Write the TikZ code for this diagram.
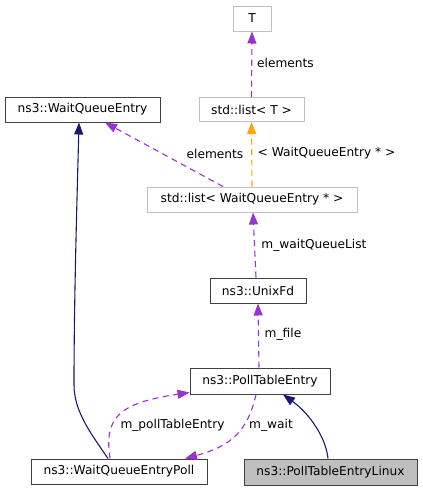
\documentclass[tikz,border=0pt]{standalone}
\usepackage{fontspec}
\setmainfont{DejaVu Sans}
\usetikzlibrary{arrows.meta}
\definecolor{purp}{HTML}{9A32CD}
\definecolor{navyc}{HTML}{191970}
\definecolor{orng}{HTML}{FFA500}
\definecolor{graybd}{HTML}{BFBFBF}
\definecolor{darkbd}{HTML}{404040}
\begin{document}
\begin{tikzpicture}[x=1pt,y=-1pt,
  every node/.style={font=\fontsize{12.2}{14}\selectfont},
  cls/.style={draw=darkbd, line width=1pt, fill=white, inner sep=0pt, minimum height=25pt},
  ext/.style={draw=graybd, line width=1pt, fill=white, inner sep=0pt, minimum height=25pt},
  cur/.style={draw=darkbd, line width=1pt, fill=graybd, inner sep=0pt, minimum height=26pt},
  uses/.style={-{Triangle[length=12pt,width=9pt,fill=purp]}, draw=purp, line width=1.1pt, dash pattern=on 6pt off 4.5pt},
  tmpl/.style={-{Triangle[length=12pt,width=9pt,fill=orng]}, draw=orng, line width=1.1pt, dash pattern=on 6pt off 4.5pt},
  inh/.style={-{Triangle[length=12pt,width=9pt,fill=navyc]}, draw=navyc, line width=1.1pt},
  lbl/.style={inner sep=0pt}
]
\useasboundingbox (0,0) rectangle (423,491);
\node[ext, minimum width=38pt] (T) at (252,18.5) {T};
\node[ext, minimum width=105pt, minimum height=24pt] (listT) at (251.5,109.5) {std::list< T >};
\node[cls, minimum width=155pt] (WQE) at (82.5,109.5) {ns3::WaitQueueEntry};
\node[ext, minimum width=210pt] (listW) at (252,199.5) {std::list< WaitQueueEntry * >};
\node[cls, minimum width=96pt] (UFd) at (258,290.5) {ns3::UnixFd};
\node[cls, minimum width=140pt, minimum height=26pt] (PTE) at (260,381) {ns3::PollTableEntry};
\node[cls, minimum width=176pt] (WQEP) at (119,471.5) {ns3::WaitQueueEntryPoll};
\node[cur, minimum width=173pt] (PTEL) at (330.5,472) {ns3::PollTableEntryLinux};

\draw[uses] (listT.north) -- (T.south);
\draw[tmpl] (listW.north) -- (listT.south);
\draw[uses] ([xshift=-29pt]listW.north) -- ([xshift=22.5pt]WQE.south);
\draw[uses] ([xshift=-2pt]UFd.north) -- ([xshift=1pt]listW.south);
\draw[uses] ([xshift=-1pt]PTE.north) -- (UFd.south);
\draw[inh] ([xshift=-11pt]WQEP.north) .. controls (92,435) and (74,412) .. (74,385) .. controls (74,300) and (77,200) .. ([xshift=-3.5pt]WQE.south);
\draw[inh] ([xshift=-2.5pt]PTEL.north) .. controls (326,438) and (310,414) .. ([xshift=23pt]PTE.south);
\draw[uses] ([xshift=-9pt]WQEP.north) .. controls (104,418) and (118,403) .. ([yshift=2pt]PTE.south west);
\draw[uses] ([xshift=-4pt]PTE.south) .. controls (248,430) and (232,446) .. ([xshift=66pt]WQEP.north);

\node[lbl] (l1) at (285.5,62.5) {elements};
\node[lbl] (l2) at (326.5,153.5) {< WaitQueueEntry * >};
\node[lbl] (l3) at (215,153.5) {elements};
\node[lbl] (l4) at (314,245) {m\_waitQueueList};
\node[lbl] (l5) at (283,334.5) {m\_file};
\node[lbl] (l6) at (172.5,425.5) {m\_pollTableEntry};
\node[lbl] (l7) at (271,425.5) {m\_wait};
\end{tikzpicture}
\end{document}
